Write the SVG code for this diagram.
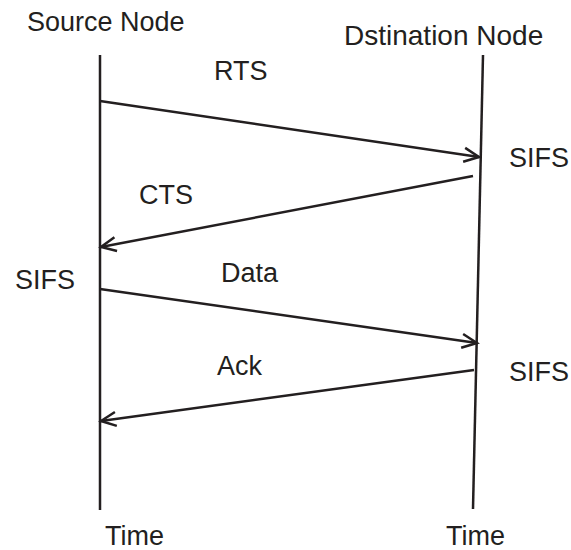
<svg xmlns="http://www.w3.org/2000/svg" width="571" height="550" viewBox="0 0 571 550">
  <style>
    text { font-family: "Liberation Sans", Arial, sans-serif; font-size: 27px; fill: #231f20; }
    .life { stroke: #231f20; stroke-width: 2.5; fill: none; }
    .msg { stroke: #231f20; stroke-width: 2.5; fill: none; marker-end: url(#chev); }
  </style>
  <defs>
    <marker id="chev" viewBox="0 0 12 12" refX="11" refY="6" markerWidth="12" markerHeight="12" markerUnits="userSpaceOnUse" orient="auto" overflow="visible">
      <path d="M-4,-1 L11,6 L-4,13" fill="none" stroke="#231f20" stroke-width="2.5"/>
    </marker>
  </defs>

  <g id="source">
    <text x="27" y="31">Source Node</text>
    <line class="life" x1="100" y1="55" x2="100" y2="510"/>
    <text x="105" y="545">Time</text>
  </g>

  <g id="destination">
    <text x="344" y="45" style="font-size:28px">Dstination Node</text>
    <line class="life" x1="483" y1="55" x2="473" y2="509"/>
    <text x="446" y="545">Time</text>
  </g>

  <g id="intervals">
    <text x="509" y="167">SIFS</text>
    <text x="15" y="289">SIFS</text>
    <text x="509" y="381">SIFS</text>
  </g>

  <g id="connectors">
    <line class="msg" x1="100" y1="101" x2="479" y2="157"/>
    <text x="214" y="80">RTS</text>
    <line class="msg" x1="473" y1="176" x2="101" y2="247"/>
    <text x="139" y="204">CTS</text>
    <line class="msg" x1="100" y1="289" x2="477" y2="343"/>
    <text x="221" y="282">Data</text>
    <line class="msg" x1="474" y1="370" x2="101" y2="421"/>
    <text x="217" y="375">Ack</text>
  </g>
</svg>
